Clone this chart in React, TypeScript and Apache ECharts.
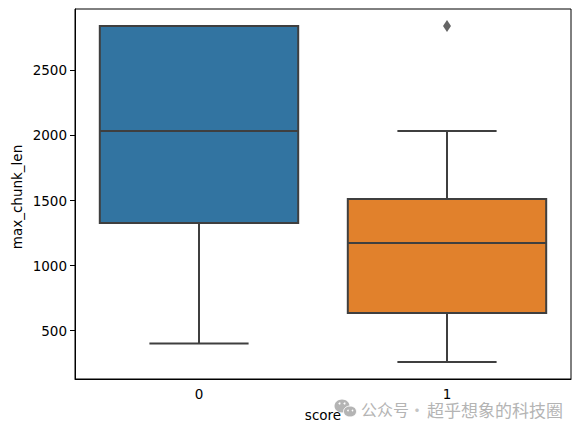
import React, { useEffect, useRef } from "react";
import * as echarts from "echarts";

const categories = ["0", "1"];
const lowWhisker = [400, 258];
const q1Values = [1327, 635];
const medians = [2035, 1173];
const q3Values = [2842, 1512];
const highWhisker = [2842, 2035];
const outliers: [string, number][] = [["1", 2842]];
const boxColors = ["#3274a1", "#e1812c"];
const yTicks = [500, 1000, 1500, 2000, 2500];
const STROKE = "#3f3f3f";
const FONT = "DejaVu Sans";
const MARK = "#b4b4b4";

export default function App() {
  const ref = useRef<HTMLDivElement>(null);
  useEffect(() => {
    const chart = echarts.init(ref.current!, null, { renderer: "svg" });
    chart.setOption({
      animation: false,
      backgroundColor: "#fff",
      grid: { show: true, left: 75, top: 9, width: 496, height: 370, borderColor: "#000", borderWidth: 1, backgroundColor: "transparent" },
      xAxis: {
        type: "category",
        data: categories,
        boundaryGap: true,
        axisLine: { onZero: false, lineStyle: { color: "#000", width: 1 } },
        axisTick: { alignWithLabel: true, length: 5, lineStyle: { color: "#000" } },
        axisLabel: { color: "#000", fontFamily: FONT, fontSize: 13.5, margin: 8 },
        splitLine: { show: false },
      },
      yAxis: {
        type: "value",
        min: 127,
        max: 2973,
        axisLine: { show: true, lineStyle: { color: "#000", width: 1 } },
        axisTick: { show: true, length: 5, lineStyle: { color: "#000" }, customValues: yTicks },
        axisLabel: { color: "#000", fontFamily: FONT, fontSize: 13.5, margin: 8, customValues: yTicks, formatter: (v: number) => String(v) },
        splitLine: { show: false },
      },
      series: [
        {
          type: "custom",
          coordinateSystem: "cartesian2d",
          encode: { x: 0, y: [1, 2, 3, 4, 5] },
          data: categories.map((c, i) => [i, lowWhisker[i], q1Values[i], medians[i], q3Values[i], highWhisker[i]]),
          renderItem: (params: any, api: any) => {
            const idx = api.value(0);
            const cx = api.coord([idx, 0])[0];
            const band = api.size([1, 0])[0];
            const half = band * 0.4;
            const capHalf = band * 0.2;
            const y = (k: number) => api.coord([idx, api.value(k)])[1];
            const lineStyle = { stroke: STROKE, lineWidth: 2, fill: "none" };
            const seg = (x1: number, y1: number, x2: number, y2: number) => ({
              type: "line",
              shape: { x1, y1, x2, y2 },
              style: lineStyle,
            });
            return {
              type: "group",
              children: [
                seg(cx, y(1), cx, y(2)),
                seg(cx, y(4), cx, y(5)),
                seg(cx - capHalf, y(1), cx + capHalf, y(1)),
                seg(cx - capHalf, y(5), cx + capHalf, y(5)),
                {
                  type: "rect",
                  shape: { x: cx - half, y: y(4), width: half * 2, height: y(2) - y(4) },
                  style: { fill: boxColors[params.dataIndex], stroke: STROKE, lineWidth: 2 },
                },
                seg(cx - half, y(3), cx + half, y(3)),
              ],
            };
          },
        },
        {
          type: "scatter",
          data: outliers,
          symbol: "diamond",
          symbolSize: [8, 12],
          itemStyle: { color: STROKE },
        },
      ],
      graphic: [
        { type: "ellipse", shape: { cx: 342, cy: 406, rx: 7.5, ry: 6.5 }, style: { fill: MARK } },
        { type: "ellipse", shape: { cx: 350, cy: 411.5, rx: 6.5, ry: 5.5 }, style: { fill: MARK, stroke: "#fff", lineWidth: 1 } },
        { type: "circle", shape: { cx: 339.5, cy: 403.5, r: 1 }, style: { fill: "#fff" } },
        { type: "circle", shape: { cx: 344.5, cy: 403.5, r: 1 }, style: { fill: "#fff" } },
        { type: "circle", shape: { cx: 348, cy: 410.5, r: 0.8 }, style: { fill: "#fff" } },
        { type: "circle", shape: { cx: 352.5, cy: 410.5, r: 0.8 }, style: { fill: "#fff" } },
        { type: "text", x: 323, y: 415, style: { text: "score", fill: "#000", font: `13.5px "${FONT}"`, textAlign: "center", textVerticalAlign: "middle" } },
        { type: "text", x: 17, y: 197, rotation: Math.PI / 2, style: { text: "max_chunk_len", fill: "#000", font: `13.5px "${FONT}"`, textAlign: "center", textVerticalAlign: "middle" } },
        { type: "text", x: 361, y: 409, style: { text: "公众号", fill: "#b4b4b4", font: '16px "Noto Sans CJK SC"', textVerticalAlign: "middle" } },
        { type: "text", x: 417, y: 409, style: { text: "·", fill: "#c4c4c4", font: '16px "Noto Sans CJK SC"', textAlign: "center", textVerticalAlign: "middle" } },
        { type: "text", x: 427, y: 409, style: { text: "超乎想象的科技圈", fill: "#b4b4b4", font: '17px "Noto Sans CJK SC"', textVerticalAlign: "middle" } },
      ],
    });
    return () => chart.dispose();
  }, []);
  return <div ref={ref} style={{ position: "fixed", left: 0, top: 0, width: 580, height: 432 }} />;
}
